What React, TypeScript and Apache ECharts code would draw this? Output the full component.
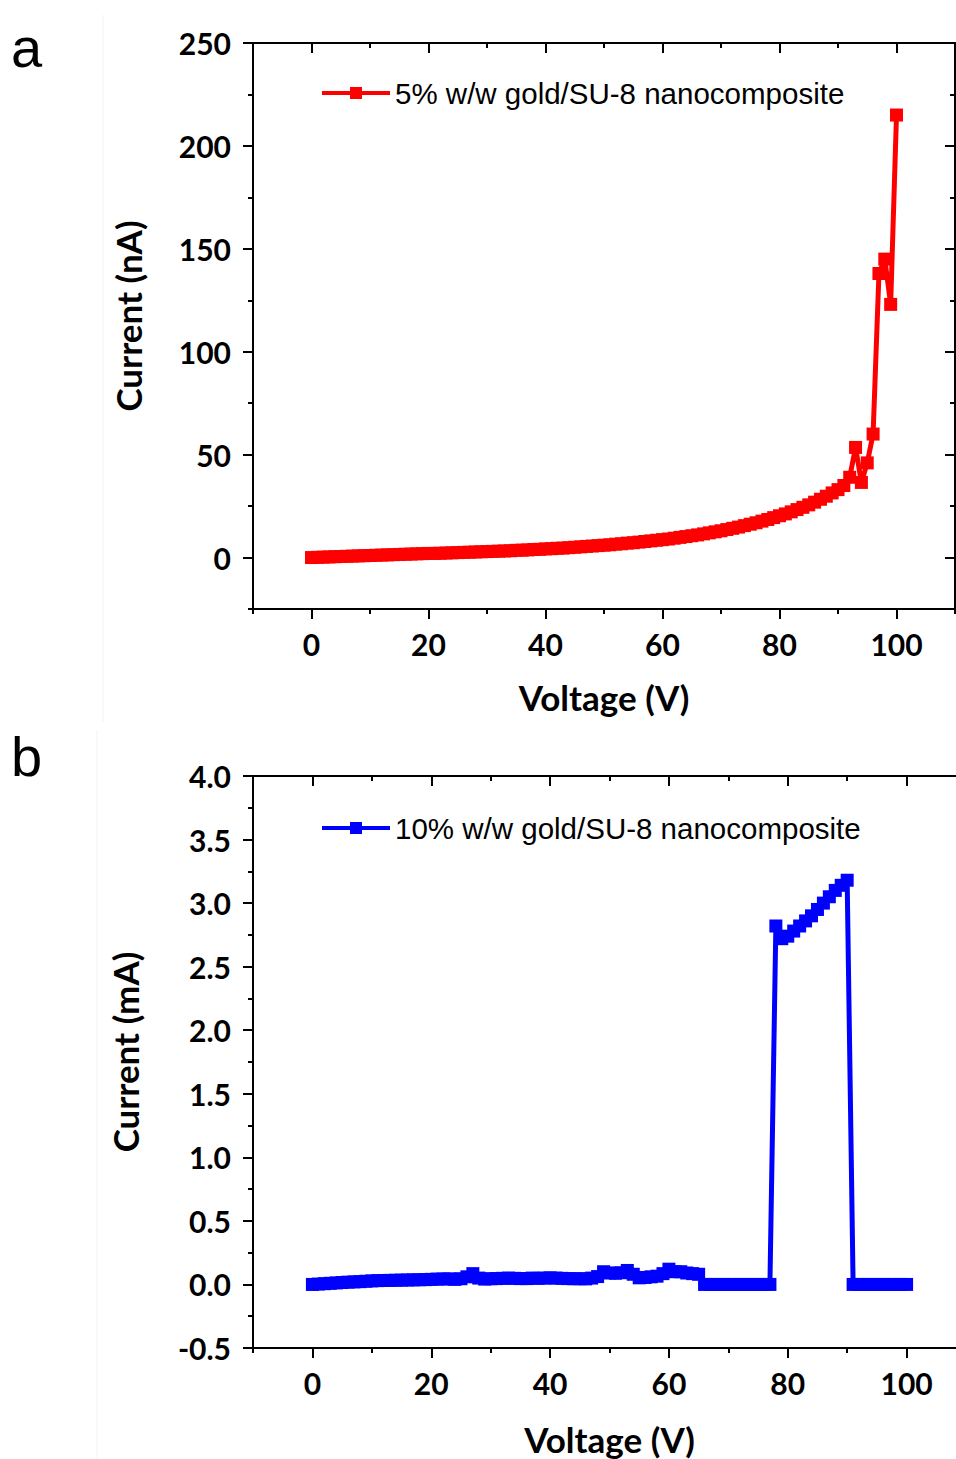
import React, { useEffect, useRef } from "react";
import * as echarts from "echarts";

// Voltage steps (V), shared by both panels
const voltage = [
  0, 1, 2, 3, 4, 5, 6, 7, 8, 9, 10,
  11, 12, 13, 14, 15, 16, 17, 18, 19, 20,
  21, 22, 23, 24, 25, 26, 27, 28, 29, 30,
  31, 32, 33, 34, 35, 36, 37, 38, 39, 40,
  41, 42, 43, 44, 45, 46, 47, 48, 49, 50,
  51, 52, 53, 54, 55, 56, 57, 58, 59, 60,
  61, 62, 63, 64, 65, 66, 67, 68, 69, 70,
  71, 72, 73, 74, 75, 76, 77, 78, 79, 80,
  81, 82, 83, 84, 85, 86, 87, 88, 89, 90,
  91, 92, 93, 94, 95, 96, 97, 98, 99, 100,
];

// Panel a: 5% w/w gold/SU-8, current in nA
const currentA = [
  0, 0.1, 0.2, 0.3, 0.4, 0.5, 0.6, 0.7, 0.8, 0.9, 1.0,
  1.1, 1.2, 1.3, 1.4, 1.5, 1.6, 1.7, 1.8, 1.9, 2.0,
  2.0, 2.1, 2.2, 2.3, 2.4, 2.5, 2.6, 2.7, 2.8, 2.9,
  3.0, 3.1, 3.2, 3.3, 3.5, 3.6, 3.7, 3.9, 4.0, 4.2,
  4.3, 4.5, 4.6, 4.8, 5.0, 5.2, 5.4, 5.6, 5.8, 6.0,
  6.2, 6.5, 6.7, 7.0, 7.2, 7.5, 7.8, 8.1, 8.4, 8.7,
  9.0, 9.4, 9.8, 10.2, 10.6, 11.0, 11.5, 12.0, 12.5, 13.0,
  13.6, 14.2, 14.8, 15.5, 16.2, 16.9, 17.7, 18.5, 19.4, 20.3,
  21.2, 22.2, 23.3, 24.4, 25.6, 26.9, 28.3, 29.8, 31.4, 33.0,
  35, 39, 53.5, 36.5, 46, 60, 138, 145, 123, 215,
];

// Panel b: 10% w/w gold/SU-8, current in mA
const currentB = [
  0, 0.003, 0.006, 0.009, 0.012, 0.015, 0.018, 0.02, 0.022, 0.025, 0.028,
  0.03, 0.031, 0.032, 0.033, 0.034, 0.035, 0.036, 0.037, 0.038, 0.04,
  0.042, 0.043, 0.044, 0.04, 0.045, 0.06, 0.085, 0.05, 0.042, 0.045,
  0.046, 0.048, 0.05, 0.048, 0.046, 0.046, 0.05, 0.048, 0.05, 0.052,
  0.05, 0.048, 0.046, 0.045, 0.045, 0.044, 0.05, 0.062, 0.1, 0.09,
  0.088, 0.092, 0.11, 0.08, 0.052, 0.055, 0.06, 0.065, 0.085, 0.12,
  0.1, 0.1, 0.09, 0.085, 0.08, 0, 0, 0, 0, 0,
  0, 0, 0, 0, 0, 0, 0, 2.82, 2.72, 2.74,
  2.78, 2.82, 2.86, 2.9, 2.95, 3.0, 3.05, 3.1, 3.14, 3.18,
  0, 0, 0, 0, 0, 0, 0, 0, 0, 0,
];

const seriesNameA = "5% w/w gold/SU-8 nanocomposite";
const seriesNameB = "10% w/w gold/SU-8 nanocomposite";

const xMajorTicks = [0, 20, 40, 60, 80, 100];
const xMinorTicks = [-10, 10, 30, 50, 70, 90, 110];
const yMajorTicksA = [0, 50, 100, 150, 200, 250];
const yMinorTicksA = [-25, 25, 75, 125, 175, 225];
const yMajorTicksB = [-0.5, 0, 0.5, 1, 1.5, 2, 2.5, 3, 3.5, 4];
const yMinorTicksB = [-0.25, 0.25, 0.75, 1.25, 1.75, 2.25, 2.75, 3.25, 3.75];

const BOLD = "Lato";
const LINE_W = 2;

function makeAxes(
  dim: "x" | "y",
  gridIndex: number,
  min: number,
  max: number,
  major: number[],
  minor: number[],
  name: string,
  nameGap: number,
  fmt?: (v: number) => string,
  namePadding?: number[]
) {
  const main = dim === "x" ? "bottom" : "left";
  const mirror = dim === "x" ? "top" : "right";
  const common = { type: "value", gridIndex, min, max, splitLine: { show: false } };
  const tickStyle = { color: "#000", width: LINE_W };
  return [
    {
      ...common,
      position: main,
      axisLine: { show: true, onZero: false, lineStyle: { color: "#000", width: LINE_W } },
      axisTick: { show: true, customValues: major, length: 10, inside: false, lineStyle: tickStyle },
      axisLabel: {
        show: true,
        customValues: major,
        margin: dim === "x" ? 20 : 22,
        fontFamily: BOLD,
        fontWeight: "bold",
        fontSize: 30,
        color: "#000",
        formatter: fmt ? (v: number) => fmt(v) : (v: number) => String(v),
      },
      name,
      nameLocation: "middle",
      nameGap,
      nameTextStyle: {
        fontFamily: BOLD,
        fontWeight: "bold",
        fontSize: 35,
        color: "#000",
        padding: namePadding || [0, 0, 0, 0],
      },
    },
    {
      ...common,
      position: main,
      axisLine: { show: false, onZero: false },
      axisTick: { show: true, customValues: minor, length: 5, inside: false, lineStyle: tickStyle },
      axisLabel: { show: false },
    },
    {
      ...common,
      position: mirror,
      axisLine: { show: true, onZero: false, lineStyle: { color: "#000", width: LINE_W } },
      axisTick: { show: true, customValues: major, length: 10, inside: true, lineStyle: tickStyle },
      axisLabel: { show: false },
    },
    {
      ...common,
      position: mirror,
      axisLine: { show: false, onZero: false },
      axisTick: { show: true, customValues: minor, length: 5, inside: true, lineStyle: tickStyle },
      axisLabel: { show: false },
    },
  ];
}

export default function App() {
  const ref = useRef<HTMLDivElement>(null);

  useEffect(() => {
    if (!ref.current) return;
    const chart = echarts.init(ref.current, null, { renderer: "svg" });

    const xAxes = [
      ...makeAxes("x", 0, -10, 110, xMajorTicks, xMinorTicks, "Voltage (V)", 70),
      ...makeAxes("x", 1, -10, 110, xMajorTicks, xMinorTicks, "Voltage (V)", 73),
    ];
    const yAxes = [
      ...makeAxes("y", 0, -25, 250, yMajorTicksA, yMinorTicksA, "Current (nA)", 108, undefined, [0, 0, 0, 20]),
      ...makeAxes("y", 1, -0.5, 4, yMajorTicksB, yMinorTicksB, "Current (mA)", 111, (v) => v.toFixed(1), [0, 0, 0, 20]),
    ];

    const legendCommon = {
      left: 320,
      padding: 0,
      itemWidth: 68,
      itemHeight: 15,
      lineStyle: { width: 4 },
      textStyle: { fontFamily: "Liberation Sans", fontSize: 29.5, color: "#000" },
    };

    chart.setOption({
      animation: false,
      backgroundColor: "#fff",
      grid: [
        { left: 253, top: 43, width: 702, height: 566, outerBoundsMode: "none", containLabel: false },
        { left: 253, top: 776, width: 713, height: 572, outerBoundsMode: "none", containLabel: false },
      ],
      xAxis: xAxes,
      yAxis: yAxes,
      legend: [
        { ...legendCommon, top: 78, data: [seriesNameA] },
        { ...legendCommon, top: 813, data: [seriesNameB] },
      ],
      graphic: [
        {
          type: "line",
          shape: { x1: 103, y1: 15, x2: 103, y2: 722 },
          style: { stroke: "#f2f2f2", lineWidth: 1 },
        },
        {
          type: "line",
          shape: { x1: 97, y1: 730, x2: 97, y2: 1459 },
          style: { stroke: "#f2f2f2", lineWidth: 1 },
        },
        {
          type: "text",
          x: 11,
          y: 47,
          style: {
            text: "a",
            font: "56px 'Liberation Sans', Arial, sans-serif",
            fill: "#000",
            verticalAlign: "middle",
          },
        },
        {
          type: "text",
          x: 11,
          y: 756,
          style: {
            text: "b",
            font: "56px 'Liberation Sans', Arial, sans-serif",
            fill: "#000",
            verticalAlign: "middle",
          },
        },
      ],
      series: [
        {
          name: seriesNameA,
          type: "line",
          xAxisIndex: 0,
          yAxisIndex: 0,
          data: voltage.map((v, i) => [v, currentA[i]]),
          color: "#ff0000",
          lineStyle: { width: 5, color: "#ff0000" },
          symbol: "rect",
          symbolSize: 13,
          itemStyle: { color: "#ff0000" },
        },
        {
          name: seriesNameB,
          type: "line",
          xAxisIndex: 4,
          yAxisIndex: 4,
          data: voltage.map((v, i) => [v, currentB[i]]),
          color: "#0000ff",
          lineStyle: { width: 5, color: "#0000ff" },
          symbol: "rect",
          symbolSize: 13,
          itemStyle: { color: "#0000ff" },
        },
      ],
    });

    return () => chart.dispose();
  }, []);

  return (
    <div
      ref={ref}
      style={{ position: "absolute", left: 0, top: 0, width: 956, height: 1459, background: "#fff" }}
    />
  );
}
